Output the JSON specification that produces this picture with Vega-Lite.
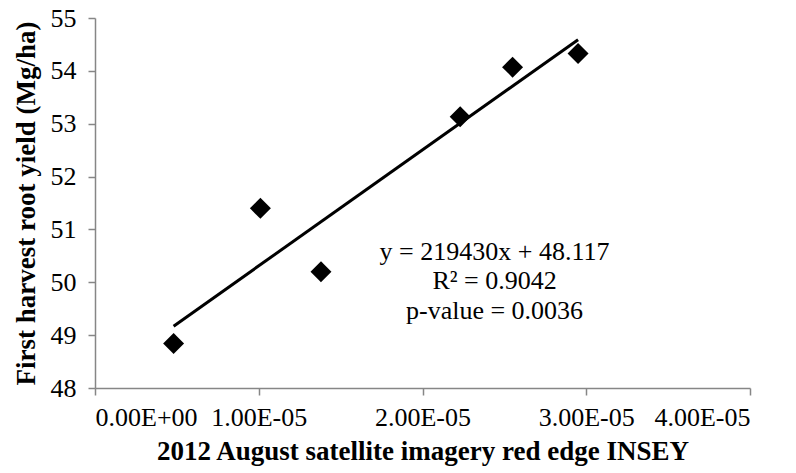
{
  "$schema": "https://vega.github.io/schema/vega-lite/v6.json",
  "width": 655,
  "height": 370,
  "autosize": "none",
  "padding": {"left": 95, "top": 18, "right": 46, "bottom": 85},
  "background": "white",
  "config": {
    "font": "Liberation Serif",
    "view": {"stroke": null},
    "axis": {
      "grid": false,
      "domainColor": "#868686",
      "domainWidth": 1.5,
      "tickColor": "#868686",
      "tickWidth": 1.5,
      "tickSize": 7,
      "labelFont": "Liberation Serif",
      "labelFontSize": 26,
      "labelColor": "#000000",
      "titleFont": "Liberation Serif",
      "titleFontSize": 27,
      "titleFontWeight": "bold",
      "titleColor": "#000000"
    }
  },
  "datasets": {
    "points": [
      {"insey": 0.0000048, "yield": 48.84},
      {"insey": 0.0000101, "yield": 51.40},
      {"insey": 0.0000138, "yield": 50.20},
      {"insey": 0.0000223, "yield": 53.13},
      {"insey": 0.0000255, "yield": 54.07},
      {"insey": 0.0000295, "yield": 54.33}
    ],
    "trend": [
      {"insey": 0.0000048, "yield": 49.170},
      {"insey": 0.0000295, "yield": 54.590}
    ],
    "stats": [
      {"insey": 0.0000244, "yield": 50.57, "label": "y = 219430x + 48.117"},
      {"insey": 0.0000244, "yield": 50.03, "label": "R² = 0.9042"},
      {"insey": 0.0000244, "yield": 49.46, "label": "p-value = 0.0036"}
    ]
  },
  "layer": [
    {
      "data": {"name": "trend"},
      "mark": {"type": "line", "color": "#000000", "strokeWidth": 3},
      "encoding": {
        "x": {
          "field": "insey",
          "type": "quantitative",
          "scale": {"domain": [0, 0.00004], "nice": false, "zero": false},
          "axis": {
            "title": "2012 August satellite imagery red edge INSEY",
            "values": [0, 0.00001, 0.00002, 0.00003, 0.00004],
            "labelExpr": "datum.value === 0 ? '0.00E+00' : format(datum.value * 100000, '.2f') + 'E-05'",
            "labelPadding": 9,
            "titlePadding": 8
          }
        },
        "y": {
          "field": "yield",
          "type": "quantitative",
          "scale": {"domain": [48, 55], "nice": false, "zero": false},
          "axis": {
            "title": "First harvest root yield (Mg/ha)",
            "values": [48, 49, 50, 51, 52, 53, 54, 55],
            "format": "d",
            "labelPadding": 12,
            "titlePadding": 10
          }
        }
      }
    },
    {
      "data": {"name": "points"},
      "mark": {"type": "point", "shape": "diamond", "filled": true, "color": "#000000", "size": 440, "opacity": 1},
      "encoding": {
        "x": {"field": "insey", "type": "quantitative"},
        "y": {"field": "yield", "type": "quantitative"}
      }
    },
    {
      "data": {"name": "stats"},
      "mark": {"type": "text", "font": "Liberation Serif", "fontSize": 26, "color": "#000000", "align": "center", "baseline": "middle"},
      "encoding": {
        "x": {"field": "insey", "type": "quantitative"},
        "y": {"field": "yield", "type": "quantitative"},
        "text": {"field": "label"}
      }
    }
  ]
}
